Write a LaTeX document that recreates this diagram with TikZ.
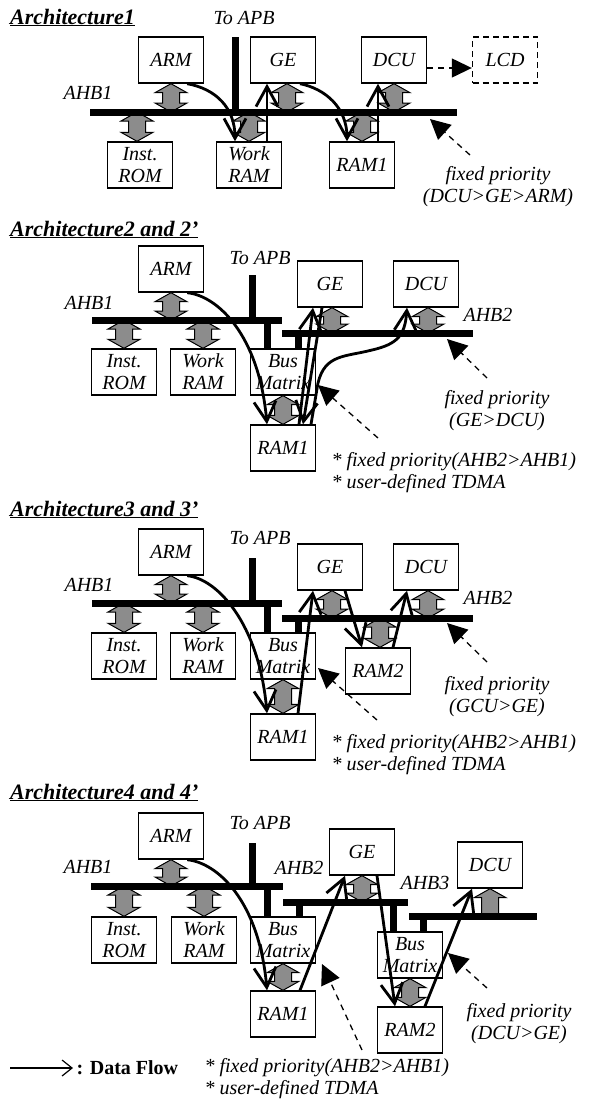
\documentclass[tikz,border=0pt]{standalone}
\usepackage{fontspec}
\setmainfont{Liberation Serif}
\usetikzlibrary{arrows.meta,calc}

\tikzset{
  unit/.style={draw, line width=1.4pt, minimum width=65pt, minimum height=46pt, inner sep=1pt, align=center},
  bus/.style={line width=7pt},
  % gray double arrow, always drawn from the upper end to the lower end
  link/.style={draw, line width=1pt, fill=black!45,
    to path={let \p1=(\tikztostart), \p2=(\tikztotarget) in
      (\x1,\y1) -- (\x1+16pt,\y1-9pt) -- (\x1+8.5pt,\y1-9pt) -- (\x1+8.5pt,\y2+9pt) -- (\x1+16pt,\y2+9pt)
      -- (\x1,\y2) -- (\x1-16pt,\y2+9pt) -- (\x1-8.5pt,\y2+9pt) -- (\x1-8.5pt,\y1-9pt) -- (\x1-16pt,\y1-9pt) -- cycle}},
  uplink/.style={draw, line width=1pt, fill=black!45,
    to path={let \p1=(\tikztostart), \p2=(\tikztotarget) in
      (\x1,\y1) -- (\x1+16pt,\y1-9pt) -- (\x1+8.5pt,\y1-9pt) -- (\x1+8.5pt,\y2)
      -- (\x1-8.5pt,\y2) -- (\x1-8.5pt,\y1-9pt) -- (\x1-16pt,\y1-9pt) -- cycle}},
  flow/.style={line width=2.8pt, -{Straight Barb[length=20pt,width=22pt]}},
  ptr/.style={line width=1.3pt, dash pattern=on 6pt off 5pt, -{Triangle[length=20pt,width=20pt]}},
  title/.style={anchor=base west, inner sep=0pt, font=\fontsize{22}{24}\selectfont\bfseries\itshape},
  note/.style={align=center},
  memo/.style={align=left, anchor=west}
}

\begin{document}
\begin{tikzpicture}[x=1pt,y=-1pt,every node/.style={font=\fontsize{20}{22}\selectfont\itshape}]
\useasboundingbox (0,0) rectangle (592,1101);

%% Architecture1
\coordinate (b1) at (0,112);
\node[title] (t1) at (10,24) {\underline{Architecture1}};
\node (apb1) at (244,18) {To APB};
\node (ahb1a) at (88,93) {AHB1};
\node[unit] (arm1) at (171,60) {ARM};
\node[unit] (ge1) at (283,60) {GE};
\node[unit] (dcu1) at (394,60) {DCU};
\node[unit, dash pattern=on 6pt off 4pt] (lcd1) at (505,60) {LCD};
\node[unit] (rom1) at (140,165) {Inst.\\ROM};
\node[unit] (wram1) at (249,165) {Work\\RAM};
\node[unit] (ram1a) at (362,165) {RAM1};
\draw[link] (arm1.south) to (arm1.south |- b1);
\draw[link] ([xshift=-3pt]rom1.north |- b1) to ([xshift=-3pt]rom1.north);
\draw[link] (wram1.north |- b1) to (wram1.north);
\draw[link] ([xshift=4pt]ge1.south) to ([xshift=4pt]ge1.south |- b1);
\draw[link] (ram1a.north |- b1) to (ram1a.north);
\draw[link] (dcu1.south) to (dcu1.south |- b1);
\draw[bus] (90,112) -- (457,112);
\draw[bus] (235,37) -- (235,112);
\draw[flow] ([xshift=-17pt]arm1.south east) .. controls +(28,5) and +(0,-34) .. ([xshift=-14pt]wram1.north);
\draw[flow] ([xshift=18pt]wram1.north) -- ([xshift=-16pt]ge1.south);
\draw[flow] ([xshift=17pt]ge1.south) .. controls +(25,5) and +(0,-34) .. ([xshift=-15pt]ram1a.north);
\draw[flow] ([xshift=16pt]ram1a.north) -- ([xshift=-16pt]dcu1.south);
\draw[line width=1.4pt, dash pattern=on 6pt off 5pt, -{Triangle[length=20pt,width=19pt]}] ([yshift=-8pt]dcu1.east) -- ([yshift=-8pt]lcd1.west);
\node[note] (n1) at (498,187) {fixed priority\\(DCU>GE>ARM)};
\coordinate (p1) at (470,155);
\draw[ptr] (p1) -- (430,119);

%% Architecture2 and 2'
\coordinate (b2a) at (0,320);
\coordinate (b2b) at (0,333);
\node[title] (t2) at (10,236) {\underline{Architecture2 and 2'}};
\node (apb2) at (260,258) {To APB};
\node (ahb2a) at (89,303) {AHB1};
\node (ahb2b) at (488,315) {AHB2};
\node[unit] (arm2) at (171,269) {ARM};
\node[unit] (ge2) at (330,284) {GE};
\node[unit] (dcu2) at (426,284) {DCU};
\node[unit] (rom2) at (124,372) {Inst.\\ROM};
\node[unit] (wram2) at (203,372) {Work\\RAM};
\node[unit] (bm2) at (283,372) {Bus\\Matrix};
\node[unit] (ram2a) at (283,448) {RAM1};
\draw[link] (arm2.south) to (arm2.south |- b2a);
\draw[link] (rom2.north |- b2a) to (rom2.north);
\draw[link] (wram2.north |- b2a) to (wram2.north);
\draw[link] (bm2.south) to (ram2a.north);
\draw[link] ([xshift=2pt]ge2.south) to ([xshift=2pt]ge2.south |- b2b);
\draw[link] ([xshift=2pt]dcu2.south) to ([xshift=2pt]dcu2.south |- b2b);
\draw[bus] (92,320) -- (282,320);
\draw[bus] (252,275) -- (252,320);
\draw[bus] (282,333) -- (473,333);
\draw[bus] (267,320) -- (267,348);
\draw[bus] (298,333) -- (298,348);
\draw[flow] ([xshift=-17pt]arm2.south east) .. controls +(30,3) and +(-8,-90) .. ([xshift=-16pt]ram2a.north);
\draw[flow] ([xshift=16pt]ram2a.north) -- ([xshift=-17pt]ge2.south);
\draw[flow] ([xshift=-8pt]ge2.south) -- ([xshift=20pt]ram2a.north);
\draw[flow] ([xshift=28pt]ram2a.north) -- (318,383) .. controls (325,354) and (345,357) .. (372,350)
  .. controls (398,344) and (405,335) .. ([xshift=-19pt]dcu2.south);
\node[note] (n2) at (497,411) {fixed priority\\(GE>DCU)};
\node[memo] (m2) at (328,473) {* fixed priority(AHB2>AHB1)\\* user-defined TDMA};
\coordinate (p2a) at (487,378);
\coordinate (p2b) at (378,438);
\draw[ptr] (p2a) -- (447,339);
\draw[ptr] (p2b) -- (318,385);

%% Architecture3 and 3'
\coordinate (b3a) at (0,603);
\coordinate (b3b) at (0,618);
\node[title] (t3) at (10,516) {\underline{Architecture3 and 3'}};
\node (apb3) at (260,538) {To APB};
\node (ahb3a) at (89,585) {AHB1};
\node (ahb3b) at (488,598) {AHB2};
\node[unit] (arm3) at (171,552) {ARM};
\node[unit] (ge3) at (330,567) {GE};
\node[unit] (dcu3) at (426,567) {DCU};
\node[unit] (rom3) at (124,656) {Inst.\\ROM};
\node[unit] (wram3) at (203,656) {Work\\RAM};
\node[unit] (bm3) at (283,656) {Bus\\Matrix};
\node[unit] (ram3a) at (283,737) {RAM1};
\node[unit] (ram3b) at (378,671) {RAM2};
\draw[link] (arm3.south) to (arm3.south |- b3a);
\draw[link] (rom3.north |- b3a) to (rom3.north);
\draw[link] (wram3.north |- b3a) to (wram3.north);
\draw[link] (bm3.south) to (ram3a.north);
\draw[link] ([xshift=2pt]ge3.south) to ([xshift=2pt]ge3.south |- b3b);
\draw[link] ([xshift=2pt]dcu3.south) to ([xshift=2pt]dcu3.south |- b3b);
\draw[link] ([xshift=2pt]ram3b.north |- b3b) to ([xshift=2pt]ram3b.north);
\draw[bus] (92,603) -- (282,603);
\draw[bus] (252,558) -- (252,603);
\draw[bus] (282,618) -- (473,618);
\draw[bus] (267,603) -- (267,633);
\draw[bus] (298,618) -- (298,633);
\draw[flow] ([xshift=-17pt]arm3.south east) .. controls +(30,3) and +(-8,-90) .. ([xshift=-16pt]ram3a.north);
\draw[flow] ([xshift=15pt]ram3a.north) -- ([xshift=-17pt]ge3.south);
\draw[flow] ([xshift=15pt]ge3.south) -- ([xshift=-16pt]ram3b.north);
\draw[flow] ([xshift=15pt]ram3b.north) -- ([xshift=-19pt]dcu3.south);
\node[note] (n3) at (497,697) {fixed priority\\(GCU>GE)};
\node[memo] (m3) at (328,755) {* fixed priority(AHB2>AHB1)\\* user-defined TDMA};
\coordinate (p3a) at (487,662);
\coordinate (p3b) at (377,720);
\draw[ptr] (p3a) -- (447,623);
\draw[ptr] (p3b) -- (318,668);

%% Architecture4 and 4'
\coordinate (b4a) at (0,886);
\coordinate (b4b) at (0,902);
\coordinate (b4c) at (0,916);
\node[title] (t4) at (10,799) {\underline{Architecture4 and 4'}};
\node (apb4) at (260,823) {To APB};
\node (ahb4a) at (88,867) {AHB1};
\node (ahb4b) at (299,868) {AHB2};
\node (ahb4c) at (425,883) {AHB3};
\node[unit] (arm4) at (171,836) {ARM};
\node[unit] (ge4) at (362,852) {GE};
\node[unit] (dcu4) at (490,865) {DCU};
\node[unit] (rom4) at (124,940) {Inst.\\ROM};
\node[unit] (wram4) at (204,940) {Work\\RAM};
\node[unit] (bm4a) at (283,940) {Bus\\Matrix};
\node[unit] (bm4b) at (410,955) {Bus\\Matrix};
\node[unit] (ram4a) at (283,1014) {RAM1};
\node[unit] (ram4b) at (410,1030) {RAM2};
\draw[link] (arm4.south) to (arm4.south |- b4a);
\draw[link] (rom4.north |- b4a) to (rom4.north);
\draw[link] (wram4.north |- b4a) to (wram4.north);
\draw[link] (bm4a.south) to (ram4a.north);
\draw[link] (ge4.south) to (ge4.south |- b4b);
\draw[uplink] (dcu4.south) to (dcu4.south |- b4c);
\draw[link] (bm4b.south) to (ram4b.north);
\draw[bus] (91,886) -- (283,886);
\draw[bus] (252,843) -- (252,886);
\draw[bus] (283,902) -- (408,902);
\draw[bus] (409,916) -- (537,916);
\draw[bus] (267,886) -- (267,916);
\draw[bus] (299,902) -- (299,916);
\draw[bus] (393,902) -- (393,932);
\draw[bus] (423,916) -- (423,932);
\draw[flow] ([xshift=-17pt]arm4.south east) .. controls +(30,3) and +(-8,-90) .. ([xshift=-16pt]ram4a.north);
\draw[flow] ([xshift=17pt]ram4a.north) -- ([xshift=-17pt]ge4.south);
\draw[flow] ([xshift=15pt]ge4.south) -- ([xshift=-15pt]ram4b.north);
\draw[flow] ([xshift=15pt]ram4b.north) -- ([xshift=-18pt]dcu4.south);
\node[note] (n4) at (519,1024) {fixed priority\\(DCU>GE)};
\node[memo] (m4) at (201,1079) {* fixed priority(AHB2>AHB1)\\* user-defined TDMA};
\coordinate (p4a) at (362,1050);
\coordinate (p4b) at (487,988);
\draw[ptr] (p4a) -- (322,964);
\draw[ptr] (p4b) -- (448,953);

%% legend
\coordinate (k1) at (10,1068);
\node[anchor=west, font=\fontsize{20}{22}\selectfont\bfseries] (key) at (73,1068) {: Data Flow};
\draw[line width=1.2pt, -{Straight Barb[length=10pt,width=16pt]}] (k1) -- (key.west);
\end{tikzpicture}
\end{document}
